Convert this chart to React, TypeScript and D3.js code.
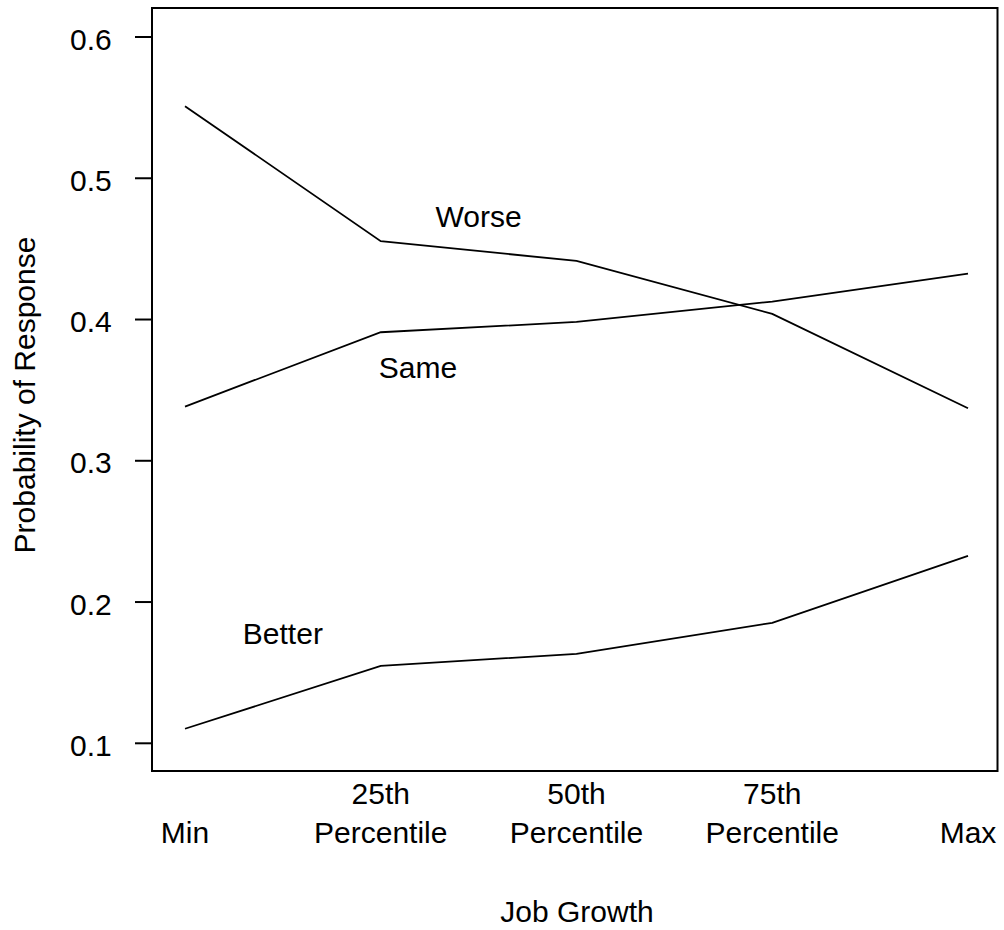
import React from "react";
import * as d3 from "d3";

const categories = ["Min", "25th Percentile", "50th Percentile", "75th Percentile", "Max"];
const tickLine1 = ["", "25th", "50th", "75th", ""];
const tickLine2 = ["Min", "Percentile", "Percentile", "Percentile", "Max"];
const worse = [0.551, 0.4555, 0.4415, 0.404, 0.3372];
const same = [0.3384, 0.391, 0.3983, 0.4127, 0.4325];
const better = [0.1103, 0.1548, 0.1633, 0.1853, 0.2327];
const yTicks = [0.1, 0.2, 0.3, 0.4, 0.5, 0.6];
const seriesLabels = [
  { text: "Worse", x: 1.5, y: 0.473 },
  { text: "Same", x: 1.19, y: 0.3665 },
  { text: "Better", x: 0.5, y: 0.178 },
];

const W = 1004;
const H = 930;
const box = { left: 152, right: 997.5, top: 8, bottom: 771 };
const FONT = "'Liberation Sans', Arial, sans-serif";
const FS = 30;

export default function App() {
  const x = d3.scaleLinear().domain([0, categories.length - 1]).range([185, 968]);
  const y = d3.scaleLinear().domain([0.1, 0.6]).range([743.3, 37]);
  const line = d3
    .line<number>()
    .x((_, i) => x(i))
    .y((d) => y(d));

  return (
    <div style={{ position: "absolute", left: 0, top: 0 }}>
      <svg width={W} height={H} style={{ display: "block", background: "#fff" }} fontFamily={FONT}>
        <rect x={0} y={0} width={W} height={H} fill="#fff" />
        {[worse, same, better].map((s, i) => (
          <path key={i} d={line(s) || ""} fill="none" stroke="#000" strokeWidth={1.8} />
        ))}
        <rect
          x={box.left}
          y={box.top}
          width={box.right - box.left}
          height={box.bottom - box.top}
          fill="none"
          stroke="#000"
          strokeWidth={2}
        />
        {yTicks.map((t) => (
          <g key={t}>
            <line x1={135} x2={box.left} y1={y(t)} y2={y(t)} stroke="#000" strokeWidth={2} />
            <text x={111.7} y={y(t) + 12.5} textAnchor="end" fontSize={FS}>
              {t.toFixed(1)}
            </text>
          </g>
        ))}
        {categories.map((c, i) => (
          <g key={c}>
            {tickLine1[i] && (
              <text x={x(i)} y={803.5} textAnchor="middle" fontSize={FS}>
                {tickLine1[i]}
              </text>
            )}
            <text x={x(i)} y={842.5} textAnchor="middle" fontSize={FS}>
              {tickLine2[i]}
            </text>
          </g>
        ))}
        {seriesLabels.map((l) => (
          <text key={l.text} x={x(l.x)} y={y(l.y) + 11} textAnchor="middle" fontSize={FS}>
            {l.text}
          </text>
        ))}
        <text x={577} y={921.5} textAnchor="middle" fontSize={FS}>
          Job Growth
        </text>
        <text
          transform={`translate(35,${(233 + 557) / 2}) rotate(-90)`}
          textAnchor="middle"
          fontSize={FS}
        >
          Probability of Response
        </text>
      </svg>
    </div>
  );
}
